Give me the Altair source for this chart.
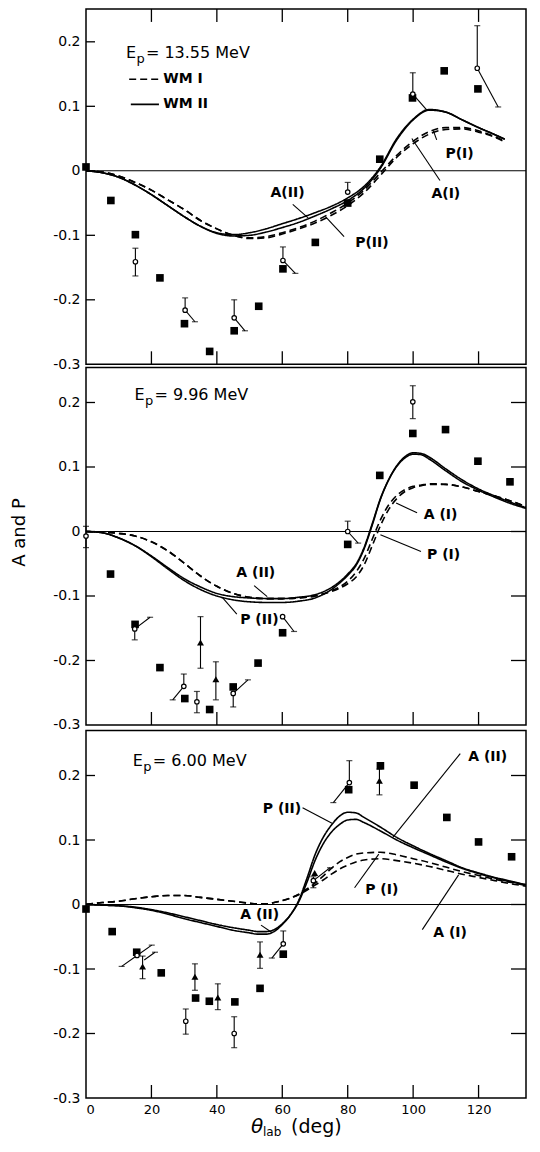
import altair as alt
import pandas as pd

FONT = "DejaVu Sans"

# ---------------- data ----------------
# Panel 1 : Ep = 13.55 MeV
P1_CX = [0, 5, 10, 15, 20, 25, 30, 35, 40, 45, 50, 55, 60, 65, 70, 75, 80, 85, 90, 95, 100, 105, 110, 115, 120, 125, 128]
P1_A2 = [0, -0.003, -0.010, -0.022, -0.037, -0.054, -0.071, -0.086, -0.096, -0.099, -0.096, -0.090, -0.082, -0.074, -0.065, -0.055, -0.042, -0.024, 0.006, 0.050, 0.080, 0.095, 0.091, 0.079, 0.067, 0.056, 0.049]
P1_P2 = [0, -0.003, -0.010, -0.022, -0.037, -0.054, -0.071, -0.086, -0.097, -0.101, -0.100, -0.095, -0.088, -0.080, -0.070, -0.059, -0.046, -0.027, 0.004, 0.048, 0.079, 0.094, 0.091, 0.079, 0.067, 0.056, 0.049]
P1_A1 = [0, -0.002, -0.008, -0.018, -0.030, -0.045, -0.060, -0.077, -0.090, -0.100, -0.105, -0.104, -0.098, -0.090, -0.081, -0.069, -0.054, -0.034, -0.007, 0.021, 0.042, 0.057, 0.064, 0.065, 0.060, 0.052, 0.045]
P1_P1 = [0, -0.002, -0.008, -0.018, -0.030, -0.045, -0.060, -0.077, -0.090, -0.100, -0.104, -0.102, -0.096, -0.088, -0.078, -0.065, -0.050, -0.030, -0.003, 0.024, 0.046, 0.061, 0.067, 0.067, 0.062, 0.053, 0.046]
P1_SQ_X = [0, 7.6, 15.1, 22.6, 30.1, 37.8, 45.3, 52.8, 60.2, 70.1, 80, 89.8, 99.8, 109.5, 119.8]
P1_SQ_Y = [0.006, -0.046, -0.099, -0.166, -0.237, -0.280, -0.248, -0.210, -0.152, -0.111, -0.050, 0.018, 0.113, 0.155, 0.127]
P1_CI_X = [15.1, 30.3, 45.3, 60.2, 80, 99.9, 119.6]
P1_CI_Y = [-0.141, -0.216, -0.228, -0.139, -0.033, 0.119, 0.159]
P1_CI_HI = [-0.120, -0.197, -0.200, -0.118, -0.018, 0.152, 0.225]
P1_CI_LO = [-0.163, -0.216, -0.228, -0.139, -0.033, 0.119, 0.159]
P1_TR_X, P1_TR_Y, P1_TR_HI, P1_TR_LO = [], [], [], []
P1_TAIL_X0 = [30.3, 45.3, 60.2, 99.9, 119.6]
P1_TAIL_Y0 = [-0.216, -0.228, -0.139, 0.119, 0.159]
P1_TAIL_X1 = [33.3, 48.6, 64.0, 104.2, 126.0]
P1_TAIL_Y1 = [-0.234, -0.248, -0.159, 0.094, 0.099]
P1_LAB = ["A(II)", "P(II)", "P(I)", "A(I)"]
P1_LAB_X = [61.6, 87.4, 114.2, 110.0]
P1_LAB_Y = [-0.035, -0.112, 0.026, -0.036]
P1_LD_X0 = [63.2, 78.9, 107.2, 108.2]
P1_LD_Y0 = [-0.052, -0.102, 0.048, -0.015]
P1_LD_X1 = [67.9, 73.2, 106.2, 99.6]
P1_LD_Y1 = [-0.073, -0.071, 0.062, 0.050]
P1_EP = "= 13.55 MeV"
P1_EP_XY = [12.2, 0.183]

# Panel 2 : Ep = 9.96 MeV
P2_CX = [0, 5, 10, 15, 20, 25, 30, 35, 40, 45, 50, 55, 60, 65, 70, 75, 77.5, 80, 82.5, 85, 87.5, 90, 92.5, 95, 97.5, 100, 102.5, 105, 110, 115, 120, 125, 130, 135, 138.5]
P2_A2 = [0, -0.002, -0.010, -0.022, -0.038, -0.056, -0.073, -0.086, -0.096, -0.101, -0.103, -0.104, -0.104, -0.102, -0.098, -0.087, -0.078, -0.066, -0.051, -0.025, 0.012, 0.051, 0.080, 0.101, 0.114, 0.120, 0.119, 0.112, 0.094, 0.077, 0.064, 0.053, 0.043, 0.035, 0.029]
P2_P2 = [0, -0.002, -0.010, -0.022, -0.039, -0.058, -0.076, -0.090, -0.100, -0.106, -0.109, -0.110, -0.110, -0.108, -0.103, -0.090, -0.080, -0.068, -0.053, -0.027, 0.010, 0.050, 0.080, 0.102, 0.116, 0.122, 0.121, 0.115, 0.097, 0.080, 0.066, 0.055, 0.045, 0.036, 0.030]
P2_A1 = [0, -0.001, -0.003, -0.007, -0.016, -0.030, -0.049, -0.069, -0.085, -0.096, -0.102, -0.104, -0.104, -0.103, -0.100, -0.092, -0.086, -0.077, -0.063, -0.042, -0.012, 0.018, 0.041, 0.056, 0.065, 0.070, 0.072, 0.074, 0.073, 0.069, 0.062, 0.055, 0.047, 0.038, 0.032]
P2_P1 = [0, -0.001, -0.003, -0.007, -0.016, -0.030, -0.049, -0.069, -0.085, -0.096, -0.102, -0.104, -0.104, -0.103, -0.100, -0.093, -0.088, -0.081, -0.071, -0.052, -0.022, 0.009, 0.034, 0.051, 0.062, 0.068, 0.071, 0.073, 0.073, 0.069, 0.062, 0.055, 0.047, 0.038, 0.032]
P2_SQ_X = [7.5, 15, 22.6, 30.2, 37.8, 45, 52.6, 60.1, 80, 89.8, 99.9, 109.9, 119.8, 129.6]
P2_SQ_Y = [-0.066, -0.144, -0.211, -0.259, -0.276, -0.241, -0.204, -0.157, -0.020, 0.087, 0.152, 0.158, 0.109, 0.077]
P2_CI_X = [0, 14.9, 29.9, 33.9, 45, 60.1, 80, 99.9]
P2_CI_Y = [-0.007, -0.151, -0.240, -0.264, -0.251, -0.132, 0.000, 0.201]
P2_CI_HI = [0.008, -0.151, -0.221, -0.248, -0.251, -0.132, 0.016, 0.226]
P2_CI_LO = [-0.025, -0.168, -0.240, -0.281, -0.272, -0.132, 0.000, 0.175]
P2_TR_X = [35.0, 39.7]
P2_TR_Y = [-0.172, -0.229]
P2_TR_HI = [-0.132, -0.202]
P2_TR_LO = [-0.212, -0.261]
P2_TAIL_X0 = [14.9, 29.9, 45, 60.1, 80]
P2_TAIL_Y0 = [-0.151, -0.240, -0.251, -0.132, 0.000]
P2_TAIL_X1 = [19.6, 26.5, 49.5, 63.6, 83.2]
P2_TAIL_Y1 = [-0.133, -0.261, -0.230, -0.155, -0.018]
P2_LAB = ["A (II)", "P (II)", "A (I)", "P (I)"]
P2_LAB_X = [51.9, 53.0, 108.4, 109.3]
P2_LAB_Y = [-0.065, -0.137, 0.026, -0.036]
P2_LD_X0 = [51.4, 46.1, 101.2, 102.4]
P2_LD_Y0 = [-0.084, -0.128, 0.029, -0.031]
P2_LD_X1 = [55.4, 41.8, 94.8, 90.0]
P2_LD_Y1 = [-0.101, -0.103, 0.044, -0.005]
P2_EP = "= 9.96 MeV"
P2_EP_XY = [14.8, 0.211]

# Panel 3 : Ep = 6.00 MeV
P3_CX = [0, 5, 10, 15, 20, 25, 30, 35, 40, 45, 50, 52.5, 55, 57.5, 60, 62.5, 65, 67.5, 70, 72.5, 75, 77.5, 80, 82.5, 85, 90, 95, 100, 105, 110, 115, 120, 125, 130, 135, 138.5]
P3_P2 = [0, -0.001, -0.002, -0.005, -0.009, -0.015, -0.022, -0.028, -0.034, -0.040, -0.044, -0.046, -0.046, -0.042, -0.031, -0.016, 0.006, 0.040, 0.077, 0.104, 0.123, 0.137, 0.143, 0.142, 0.135, 0.120, 0.104, 0.091, 0.079, 0.068, 0.057, 0.049, 0.042, 0.036, 0.030, 0.026]
P3_A2 = [0, -0.001, -0.002, -0.004, -0.008, -0.013, -0.019, -0.025, -0.031, -0.036, -0.040, -0.042, -0.042, -0.039, -0.030, -0.016, 0.004, 0.034, 0.068, 0.094, 0.112, 0.124, 0.131, 0.132, 0.127, 0.114, 0.100, 0.088, 0.077, 0.066, 0.056, 0.048, 0.041, 0.035, 0.030, 0.026]
P3_P1 = [0, 0.003, 0.005, 0.009, 0.012, 0.014, 0.014, 0.011, 0.008, 0.005, 0.002, 0.001, 0.001, 0.003, 0.006, 0.010, 0.016, 0.024, 0.033, 0.044, 0.056, 0.066, 0.073, 0.078, 0.080, 0.081, 0.077, 0.071, 0.065, 0.058, 0.051, 0.045, 0.039, 0.034, 0.029, 0.026]
P3_A1 = [0, 0.003, 0.005, 0.009, 0.012, 0.014, 0.014, 0.011, 0.008, 0.005, 0.002, 0.001, 0.001, 0.003, 0.006, 0.010, 0.015, 0.022, 0.030, 0.038, 0.047, 0.055, 0.061, 0.066, 0.069, 0.071, 0.068, 0.064, 0.059, 0.053, 0.047, 0.042, 0.037, 0.032, 0.028, 0.025]
P3_SQ_X = [0, 8, 15.5, 23, 33.5, 37.7, 45.5, 53.2, 60.3, 80.3, 90, 100.3, 110.3, 120, 130.1]
P3_SQ_Y = [-0.007, -0.042, -0.074, -0.106, -0.145, -0.150, -0.151, -0.130, -0.077, 0.178, 0.215, 0.185, 0.135, 0.097, 0.074]
P3_CI_X = [15.6, 30.5, 45.3, 60.3, 69.5, 80.5]
P3_CI_Y = [-0.079, -0.181, -0.200, -0.061, 0.037, 0.189]
P3_CI_HI = [-0.079, -0.162, -0.174, -0.041, 0.043, 0.223]
P3_CI_LO = [-0.079, -0.201, -0.222, -0.061, 0.026, 0.189]
P3_TR_X = [17.3, 33.3, 40.3, 53.2, 69.9, 89.7]
P3_TR_Y = [-0.096, -0.112, -0.144, -0.078, 0.049, 0.192]
P3_TR_HI = [-0.080, -0.092, -0.123, -0.058, 0.049, 0.210]
P3_TR_LO = [-0.115, -0.133, -0.163, -0.099, 0.049, 0.170]
P3_TAIL_X0 = [15.6, 15.6, 17.8, 60.3, 69.5, 80.5]
P3_TAIL_Y0 = [-0.079, -0.079, -0.086, -0.061, 0.037, 0.189]
P3_TAIL_X1 = [10.9, 20.1, 21.1, 56.8, 74.6, 75.6]
P3_TAIL_Y1 = [-0.096, -0.063, -0.074, -0.083, 0.057, 0.158]
P3_LAB = ["A (II)", "P (II)", "P (I)", "A (I)", "A (II)"]
P3_LAB_X = [122.8, 59.9, 90.4, 111.3, 53.1]
P3_LAB_Y = [0.229, 0.148, 0.023, -0.044, -0.016]
P3_LD_X0 = [114.4, 66.2, 82.1, 102.8, 53.5]
P3_LD_Y0 = [0.234, 0.150, 0.026, -0.039, -0.032]
P3_LD_X1 = [93.8, 75.2, 89.5, 113.9, 56.7]
P3_LD_Y1 = [0.104, 0.126, 0.078, 0.046, -0.043]
P3_EP = "= 6.00 MeV"
P3_EP_XY = [14.3, 0.223]

EP_MAIN = "E"
EP_SUB = "p"

# legend (panel 1)
LEG_NAMES = ["WM I", "WM II"]
LEG_X0 = [13.2, 13.7]
LEG_X1 = [22.3, 22.3]
LEG_Y = [0.142, 0.103]
LEG_TX = [23.6, 23.6]

Y_TICKS = [-0.3, -0.2, -0.1, 0, 0.1, 0.2]
Y_INNER_TICKS = [-0.2, -0.1, 0, 0.1, 0.2]
X_TICKS = [0, 20, 40, 60, 80, 100, 120]
X_INNER_TICKS = [20, 40, 60, 80, 100, 120]
X_TITLE = ["\u03b8", "lab", "(deg)"]
Y_TITLE = "A and P"

# ---------------- layout: three stacked panels on one shared vertical scale ----------------
W = 440
HP = 1089                    # plot height (all three panels)
PXU = 645.0                  # pixels per unit of A/P
YMAX = HP / PXU
XDOM = [0, 134.5]
YBOT = -0.3
OFFSETS = [1.4375, 0.8783, 0.3]   # vertical shift of each panel on the shared scale
TOPS = [0.251, 0.2543, 0.2698]    # top of each panel's frame (in A/P units)

PANELS = [
    dict(cx=P1_CX, a2=P1_A2, p2=P1_P2, a1=P1_A1, p1=P1_P1, sqx=P1_SQ_X, sqy=P1_SQ_Y,
         cix=P1_CI_X, ciy=P1_CI_Y, cihi=P1_CI_HI, cilo=P1_CI_LO,
         trx=P1_TR_X, try_=P1_TR_Y, trhi=P1_TR_HI, trlo=P1_TR_LO,
         tx0=P1_TAIL_X0, ty0=P1_TAIL_Y0, tx1=P1_TAIL_X1, ty1=P1_TAIL_Y1,
         lab=P1_LAB, labx=P1_LAB_X, laby=P1_LAB_Y,
         lx0=P1_LD_X0, ly0=P1_LD_Y0, lx1=P1_LD_X1, ly1=P1_LD_Y1,
         ep=P1_EP, epxy=P1_EP_XY),
    dict(cx=P2_CX, a2=P2_A2, p2=P2_P2, a1=P2_A1, p1=P2_P1, sqx=P2_SQ_X, sqy=P2_SQ_Y,
         cix=P2_CI_X, ciy=P2_CI_Y, cihi=P2_CI_HI, cilo=P2_CI_LO,
         trx=P2_TR_X, try_=P2_TR_Y, trhi=P2_TR_HI, trlo=P2_TR_LO,
         tx0=P2_TAIL_X0, ty0=P2_TAIL_Y0, tx1=P2_TAIL_X1, ty1=P2_TAIL_Y1,
         lab=P2_LAB, labx=P2_LAB_X, laby=P2_LAB_Y,
         lx0=P2_LD_X0, ly0=P2_LD_Y0, lx1=P2_LD_X1, ly1=P2_LD_Y1,
         ep=P2_EP, epxy=P2_EP_XY),
    dict(cx=P3_CX, a2=P3_A2, p2=P3_P2, a1=P3_A1, p1=P3_P1, sqx=P3_SQ_X, sqy=P3_SQ_Y,
         cix=P3_CI_X, ciy=P3_CI_Y, cihi=P3_CI_HI, cilo=P3_CI_LO,
         trx=P3_TR_X, try_=P3_TR_Y, trhi=P3_TR_HI, trlo=P3_TR_LO,
         tx0=P3_TAIL_X0, ty0=P3_TAIL_Y0, tx1=P3_TAIL_X1, ty1=P3_TAIL_Y1,
         lab=P3_LAB, labx=P3_LAB_X, laby=P3_LAB_Y,
         lx0=P3_LD_X0, ly0=P3_LD_Y0, lx1=P3_LD_X1, ly1=P3_LD_Y1,
         ep=P3_EP, epxy=P3_EP_XY),
]

# ---------------- build tables ----------------
curves, eb, caps, tails, squares, tris, circs, leads, labs, eps = ([] for _ in range(10))
frames, zeros, lticks, rticks, bticks, tticks = ([] for _ in range(6))
for i, d in enumerate(PANELS):
    off = OFFSETS[i]
    for name, model, ys in [("A(II)", "WM II", d["a2"]), ("P(II)", "WM II", d["p2"]),
                            ("A(I)", "WM I", d["a1"]), ("P(I)", "WM I", d["p1"])]:
        for xv, yv in zip(d["cx"], ys):
            curves.append({"x": xv, "y": yv + off, "key": f"{i}-{name}", "model": model})
    ebx = list(d["cix"]) + list(d["trx"])
    eby = list(d["ciy"]) + list(d["try_"])
    ebl = list(d["cilo"]) + list(d["trlo"])
    ebh = list(d["cihi"]) + list(d["trhi"])
    for xv, yv, lo, hi in zip(ebx, eby, ebl, ebh):
        eb.append({"x": xv, "lo": lo + off, "hi": hi + off})
        if abs(hi - yv) > 0.004:
            caps.append({"x": xv, "y": hi + off})
        if abs(yv - lo) > 0.004:
            caps.append({"x": xv, "y": lo + off})
    for x0, y0, x1, y1 in zip(d["tx0"], d["ty0"], d["tx1"], d["ty1"]):
        tails.append({"x": x0, "y": y0 + off, "x2": x1, "y2": y1 + off})
        caps.append({"x": x1, "y": y1 + off})
    for xv, yv in zip(d["sqx"], d["sqy"]):
        squares.append({"x": xv, "y": yv + off})
    for xv, yv in zip(d["trx"], d["try_"]):
        tris.append({"x": xv, "y": yv + off})
    for xv, yv in zip(d["cix"], d["ciy"]):
        circs.append({"x": xv, "y": yv + off})
    for x0, y0, x1, y1 in zip(d["lx0"], d["ly0"], d["lx1"], d["ly1"]):
        leads.append({"x": x0, "y": y0 + off, "x2": x1, "y2": y1 + off})
    for t, xv, yv in zip(d["lab"], d["labx"], d["laby"]):
        labs.append({"x": xv, "y": yv + off, "t": t})
    eps.append({"x": d["epxy"][0], "y": d["epxy"][1] + off, "t": d["ep"],
                "e": EP_MAIN, "s": EP_SUB})
    frames.append({"yb": YBOT + off, "yt": TOPS[i] + off})
    zeros.append({"y": off})
    for v in Y_INNER_TICKS:
        lticks.append({"y": v + off})
        if i > 0:
            rticks.append({"y": v + off})
    for v in X_INNER_TICKS:
        bticks.append({"x": v, "y": YBOT + off, "y2": YBOT + off + 13 / PXU})
        if i == 0:
            tticks.append({"x": v, "y": TOPS[i] + off, "y2": TOPS[i] + off - 13 / PXU})

leg = pd.DataFrame({"x": LEG_X0, "x2": LEG_X1, "y": [v + OFFSETS[0] for v in LEG_Y],
                    "tx": LEG_TX, "t": LEG_NAMES, "model": LEG_NAMES})
ep_df = pd.DataFrame(eps)

# ---------------- scales and axes ----------------
R = f"round((datum.value - (datum.value > 1.1 ? {OFFSETS[0]} : (datum.value > 0.55 ? {OFFSETS[1]} : {OFFSETS[2]}))) * 10)"
LABEL_EXPR = f"{R} == 0 ? '0' : ({R} < 0 ? '-' : '') + '0.' + abs({R})"

xscale = alt.Scale(domain=XDOM, nice=False, zero=False)
yscale = alt.Scale(domain=[0, YMAX], nice=False, zero=False)
xaxis = alt.Axis(values=X_TICKS, format="d", ticks=False, tickSize=0, domain=False, grid=False,
                 labelFontSize=13, labelFont=FONT, labelColor="black", labelPadding=5, title=None)
yaxis = alt.Axis(values=[v + o for o in OFFSETS for v in Y_TICKS], labelExpr=LABEL_EXPR,
                 ticks=False, tickSize=0, domain=False, grid=False, labelOverlap=False,
                 labelFontSize=14, labelFont=FONT, labelColor="black", labelPadding=6,
                 title=Y_TITLE, titleFont=FONT, titleFontSize=18, titleFontWeight="normal",
                 titleColor="black", titleX=-58, titleY=523, titleAngle=270,
                 titleAlign="center", titleBaseline="bottom")


def X(f):
    return alt.X(f"{f}:Q", scale=xscale, axis=xaxis)


def Y(f):
    return alt.Y(f"{f}:Q", scale=yscale, axis=yaxis)


DASH = alt.StrokeDash("model:N", legend=None,
                      scale=alt.Scale(domain=["WM I", "WM II"], range=[[7, 4], [1, 0]]))

layers = [
    alt.Chart(pd.DataFrame(frames)).mark_rect(fillOpacity=0, stroke="black", strokeWidth=1.5)
    .encode(y=Y("yb"), y2=alt.Y2("yt"), x=alt.value(0), x2=alt.value(W)),
    alt.Chart(pd.DataFrame(zeros)).mark_rule(color="black", strokeWidth=1.1)
    .encode(y=Y("y"), x=alt.value(0), x2=alt.value(W)),
    alt.Chart(pd.DataFrame(curves)).mark_line(color="black", strokeWidth=1.6, interpolate="monotone",
                                              clip=True)
    .encode(x=X("x"), y=Y("y"), detail="key:N", strokeDash=DASH),
    alt.Chart(pd.DataFrame(eb)).mark_rule(color="black", strokeWidth=1.1)
    .encode(x=X("x"), y=Y("lo"), y2=alt.Y2("hi")),
    alt.Chart(pd.DataFrame(tails)).mark_rule(color="black", strokeWidth=1.1)
    .encode(x=X("x"), y=Y("y"), x2=alt.X2("x2"), y2=alt.Y2("y2")),
    alt.Chart(pd.DataFrame(caps)).mark_tick(color="black", orient="horizontal", size=6, thickness=1.2)
    .encode(x=X("x"), y=Y("y")),
    alt.Chart(pd.DataFrame(squares)).mark_point(shape="square", filled=True, color="black", size=58, opacity=1)
    .encode(x=X("x"), y=Y("y")),
    alt.Chart(pd.DataFrame(tris)).mark_point(shape="triangle-up", filled=True, color="black", size=48, opacity=1)
    .encode(x=X("x"), y=Y("y")),
    alt.Chart(pd.DataFrame(circs)).mark_point(shape="circle", filled=True, fill="white", stroke="black",
                                              strokeWidth=1.2, size=20, opacity=1)
    .encode(x=X("x"), y=Y("y")),
    alt.Chart(pd.DataFrame(leads)).mark_rule(color="black", strokeWidth=1.1)
    .encode(x=X("x"), y=Y("y"), x2=alt.X2("x2"), y2=alt.Y2("y2")),
    alt.Chart(pd.DataFrame(labs)).mark_text(font=FONT, fontSize=14, fontWeight="bold", color="black",
                                            align="center", baseline="middle")
    .encode(x=X("x"), y=Y("y"), text="t:N"),
    # E_p labels: "E", subscript "p", "= ... MeV"
    alt.Chart(ep_df).mark_text(font=FONT, fontSize=16, color="black", align="left", baseline="middle")
    .encode(x=X("x"), y=Y("y"), text="e:N"),
    alt.Chart(ep_df).mark_text(font=FONT, fontSize=13, color="black", align="left", baseline="middle",
                               dx=10.5, dy=6)
    .encode(x=X("x"), y=Y("y"), text="s:N"),
    alt.Chart(ep_df).mark_text(font=FONT, fontSize=16, color="black", align="left", baseline="middle",
                               dx=20)
    .encode(x=X("x"), y=Y("y"), text="t:N"),
    alt.Chart(leg).mark_rule(color="black", strokeWidth=1.6)
    .encode(x=X("x"), x2=alt.X2("x2"), y=Y("y"), strokeDash=DASH),
    alt.Chart(leg).mark_text(font=FONT, fontSize=14, fontWeight="bold", color="black",
                             align="left", baseline="middle")
    .encode(x=X("tx"), y=Y("y"), text="t:N"),
    alt.Chart(pd.DataFrame(lticks)).mark_rule(color="black", strokeWidth=1.3)
    .encode(y=Y("y"), x=alt.value(0), x2=alt.value(9)),
    alt.Chart(pd.DataFrame(rticks)).mark_rule(color="black", strokeWidth=1.3)
    .encode(y=Y("y"), x=alt.value(W - 15), x2=alt.value(W)),
    alt.Chart(pd.DataFrame(bticks)).mark_rule(color="black", strokeWidth=1.3)
    .encode(x=X("x"), y=Y("y"), y2=alt.Y2("y2")),
    alt.Chart(pd.DataFrame(tticks)).mark_rule(color="black", strokeWidth=1.3)
    .encode(x=X("x"), y=Y("y"), y2=alt.Y2("y2")),
    alt.Chart(pd.DataFrame({"t": [X_TITLE[0]]}))
    .mark_text(font=FONT, fontSize=20, fontStyle="italic", color="black", align="left", baseline="alphabetic")
    .encode(text="t:N", x=alt.value(165), y=alt.value(HP + 35)),
    alt.Chart(pd.DataFrame({"t": [X_TITLE[1]]}))
    .mark_text(font=FONT, fontSize=12, color="black", align="left", baseline="alphabetic")
    .encode(text="t:N", x=alt.value(177), y=alt.value(HP + 38)),
    alt.Chart(pd.DataFrame({"t": [X_TITLE[2]]}))
    .mark_text(font=FONT, fontSize=19, color="black", align="left", baseline="alphabetic")
    .encode(text="t:N", x=alt.value(205), y=alt.value(HP + 35)),
]

chart = alt.layer(*layers).properties(
    width=W, height=HP,
    padding={"left": 2, "top": 0, "right": 0, "bottom": 0},
).configure_view(strokeWidth=0)

chart.save("out.html", embed_options={"renderer": "svg", "actions": False})
